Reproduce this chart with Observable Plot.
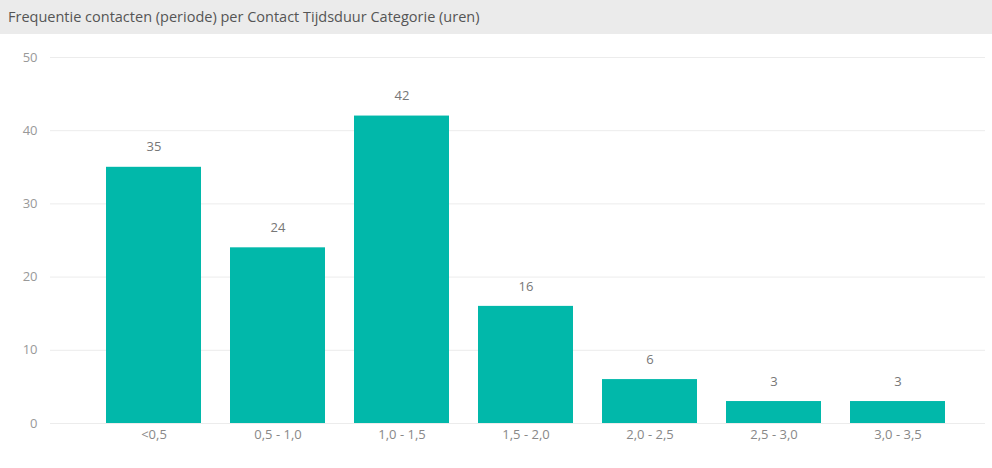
<!DOCTYPE html>
<html>
<head>
<meta charset="utf-8">
<script src="https://cdn.jsdelivr.net/npm/d3@7"></script>
<script src="https://cdn.jsdelivr.net/npm/@observablehq/plot@0.6"></script>
<style>
  html, body { margin: 0; padding: 0; background: #fff; }
  body { width: 992px; height: 468px; overflow: hidden; font-family: "Open Sans", "Noto Sans", sans-serif; }
  #title { height: 34px; line-height: 34px; background: #ebebeb; color: #555; font-size: 14.5px; padding-left: 8px; box-sizing: border-box; white-space: nowrap; }
</style>
</head>
<body>
<div id="title">Frequentie contacten (periode) per Contact Tijdsduur Categorie (uren)</div>
<div id="chart"></div>
<script>
const categories = ["<0,5", "0,5 - 1,0", "1,0 - 1,5", "1,5 - 2,0", "2,0 - 2,5", "2,5 - 3,0", "3,0 - 3,5"];
const values = [35, 24, 42, 16, 6, 3, 3];
const yTicks = [0, 10, 20, 30, 40, 50];

const data = categories.map((c, i) => ({category: c, value: values[i]}));

const chart = Plot.plot({
  width: 992,
  height: 434,
  marginLeft: 90,
  marginRight: 31,
  marginTop: 23,
  marginBottom: 45,
  style: {fontFamily: "'Open Sans', 'Noto Sans', sans-serif", fontSize: "13px", background: "#fff"},
  x: {domain: categories, paddingInner: 0.23, paddingOuter: 0.115, label: null},
  y: {domain: [0, 50], ticks: yTicks, label: null},
  marks: [
    Plot.ruleY(yTicks, {stroke: "#ececec", strokeWidth: 1, insetLeft: -40, insetRight: -24}),
    Plot.barY(data, {x: "category", y: "value", fill: "#01B8AA"}),
    Plot.text(data, {x: "category", y: "value", text: d => String(d.value), dy: -20, fill: "#777", fontSize: 13}),
    Plot.axisY({ticks: yTicks, tickSize: 0, tickPadding: 53, fill: "#999", fontSize: 13, label: null}),
    Plot.axisX({tickSize: 0, tickPadding: 6, fill: "#888", fontSize: 13, label: null})
  ]
});
document.getElementById("chart").appendChild(chart);
</script>
</body>
</html>
